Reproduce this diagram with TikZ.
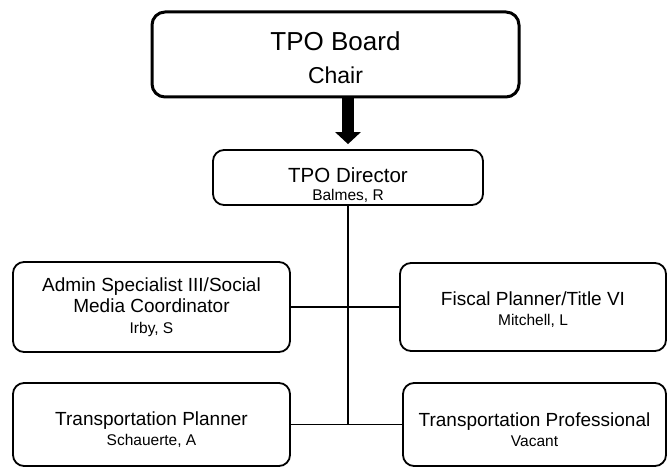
\documentclass[tikz,border=0pt]{standalone}
\usepackage{fontspec}
\setmainfont{Liberation Sans}
\usetikzlibrary{arrows.meta}
\newcommand{\who}[1]{{\fontsize{15.5}{18}\selectfont #1}}
\newcommand{\lift}[1]{\rule{0pt}{#1}}
\begin{document}
\begin{tikzpicture}[x=1pt,y=-1pt,
    unit/.style={draw=black,line width=1.8pt,rounded corners=11pt,align=center,inner sep=0pt,
      font=\fontsize{19}{20}\selectfont},
    link/.style={line width=1.8pt}]
      \useasboundingbox (0,0) rectangle (668,468);
      \node[unit,line width=3pt,rounded corners=13pt,minimum width=367pt,minimum height=85pt,
        font=\fontsize{26}{33}\selectfont] (board) at (335.5,54.5)
        {\lift{25pt}TPO Board\\{\fontsize{23}{33}\selectfont Chair}};
      \node[unit,minimum width=270pt,minimum height=55pt,font=\fontsize{20.5}{18}\selectfont] (director) at (348,177.5)
        {\lift{29pt}TPO Director\\\who{Balmes, R}};
      \node[unit,minimum width=277pt,minimum height=90pt,font=\fontsize{19}{21}\selectfont] (admin) at (151.5,307)
        {Admin Specialist III/Social\\Media Coordinator\\\who{Irby, S}};
      \node[unit,minimum width=266pt,minimum height=88pt] (fiscal) at (533,307)
        {\lift{19pt}Fiscal Planner/Title VI\\\who{Mitchell, L}};
      \node[unit,minimum width=277pt,minimum height=83pt] (planner) at (151.5,424.5)
        {\lift{24pt}Transportation Planner\\\who{Schauerte, A}};
      \node[unit,minimum width=263pt,minimum height=83pt] (professional) at (534.5,424.5)
        {\lift{24pt}Transportation Professional\\\who{Vacant}};
      \draw[line width=12pt,-{Triangle[width=25pt,length=12pt]}] (board.south -| director.north) -- ([yshift=5pt]director.north);
      \draw[link] (director.south) -- (director.south |- planner.east);
      \draw[link] (admin.east) -- (fiscal.west);
      \draw[link] (planner.east) -- (professional.west);
    \end{tikzpicture}
\end{document}
